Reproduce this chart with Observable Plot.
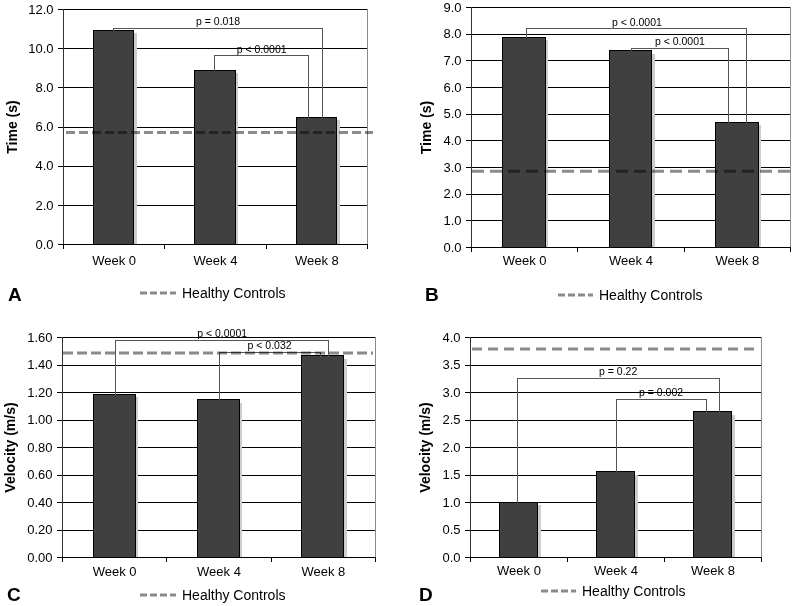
<!DOCTYPE html>
<html>
<head>
<meta charset="utf-8">
<script src="https://cdn.jsdelivr.net/npm/d3@7"></script>
<script src="https://cdn.jsdelivr.net/npm/@observablehq/plot@0.6"></script>
<style>
  html, body { margin: 0; padding: 0; background: #fff; }
  #wrap { position: relative; width: 793px; height: 606px; overflow: hidden; font-family: 'Liberation Sans', Arial, sans-serif; color: #000; }
  .panel { position: absolute; }
  .letter { position: absolute; font-weight: bold; font-size: 19px; line-height: 20px; }
  .legend { position: absolute; display: flex; align-items: center; font-size: 14px; line-height: 18px; height: 18px; }
  .legend svg { display: block; margin-right: 6px; }
</style>
</head>
<body>
<div id="wrap"></div>
<script>
// ---------- data ----------
const categories = ["Week 0", "Week 4", "Week 8"];

const timeA = [10.91, 8.87, 6.47];
const timeB = [7.86, 7.36, 4.68];
const velocityC = [1.183, 1.144, 1.464];
const velocityD = [1.0, 1.55, 2.64];

const healthyA = 5.72;
const healthyB = 2.86;
const healthyC = 1.488;
const healthyD = 3.79;

const yTicksA = [0, 2, 4, 6, 8, 10, 12];
const yTicksB = [0, 1, 2, 3, 4, 5, 6, 7, 8, 9];
const yTicksC = [0, 0.2, 0.4, 0.6, 0.8, 1.0, 1.2, 1.4, 1.6];
const yTicksD = [0, 0.5, 1.0, 1.5, 2.0, 2.5, 3.0, 3.5, 4.0];

// brackets: from/to = position along the category axis (category index units), top = bracket height
const bracketsA = [
  {label: "p = 0.018", from: 0.49, to: 2.56, top: 11.05},
  {label: "p < 0.0001", from: 1.49, to: 2.42, top: 9.65}
];
const bracketsB = [
  {label: "p < 0.0001", from: 0.52, to: 2.59, top: 8.2},
  {label: "p < 0.0001", from: 1.50, to: 2.42, top: 7.48}
];
const bracketsC = [
  {label: "p < 0.0001", from: 0.51, to: 2.55, top: 1.58},
  {label: "p < 0.032", from: 1.50, to: 2.47, top: 1.493}
];
const bracketsD = [
  {label: "p = 0.22", from: 0.48, to: 2.565, top: 3.26},
  {label: "p = 0.002", from: 1.50, to: 2.43, top: 2.88}
];

const legendLabel = "Healthy Controls";

// ---------- drawing ----------
function panel(cfg) {
  const data = categories.map((c, i) => ({c, i, v: cfg.values[i]}));
  const brk = cfg.brackets.map(b => ({...b, fromY: cfg.values[Math.floor(b.from)], toY: cfg.values[Math.floor(b.to)]}));
  const pts = brk.flatMap((b, k) => [
    {k, x: b.from, y: b.fromY}, {k, x: b.from, y: b.top},
    {k, x: b.to, y: b.top}, {k, x: b.to, y: b.toY}
  ]);
  const boundaries = d3.range(categories.length + 1);
  const centers = categories.map((_, i) => i + 0.5);
  const bw = 0.4;
  const crisp = "crispEdges";
  return Plot.plot({
    width: cfg.width, height: cfg.height,
    marginLeft: cfg.ml, marginRight: cfg.mr, marginTop: cfg.mt, marginBottom: cfg.mb,
    x: {type: "linear", domain: [0, categories.length], label: null},
    y: {domain: [0, d3.max(cfg.ticks)], label: null},
    style: {fontFamily: "'Liberation Sans', Arial, sans-serif", fontSize: "13px", color: "black", background: "white", overflow: "visible"},
    marks: [
      Plot.frame({stroke: "#8c8c8c", shapeRendering: crisp}),
      Plot.gridY(cfg.ticks, {stroke: "black", strokeOpacity: 1, shapeRendering: crisp}),
      Plot.rect(data, {x1: d => d.i + 0.5 - bw / 2, x2: d => d.i + 0.5 + bw / 2, y1: 0, y2: "v", dx: 3, insetTop: 3, fill: "#cdcdcd", shapeRendering: crisp}),
      Plot.rect(data, {x1: d => d.i + 0.5 - bw / 2, x2: d => d.i + 0.5 + bw / 2, y1: 0, y2: "v", fill: "#404040", stroke: "black", strokeWidth: 1, shapeRendering: crisp}),
      Plot.line(pts, {x: "x", y: "y", z: "k", stroke: "#555", strokeWidth: 1, shapeRendering: crisp}),
      Plot.text(brk, {x: d => (d.from + d.to) / 2, y: "top", text: "label", dy: -3, lineAnchor: "bottom", fontSize: 10.5}),
      Plot.ruleY([cfg.healthy], {stroke: "#8a8a8a", strokeWidth: 3, strokeDasharray: cfg.dash, mixBlendMode: "multiply", insetLeft: cfg.insetL, insetRight: cfg.insetR}),
      Plot.ruleX([0], {stroke: "#333", shapeRendering: crisp}),
      Plot.ruleY([0], {stroke: "black", shapeRendering: crisp}),
      Plot.axisY(cfg.ticks, {tickSize: 5, tickPadding: 5, tickFormat: d3.format(cfg.fmt), fontSize: 13, label: null, shapeRendering: crisp}),
      Plot.axisX(boundaries, {tickSize: 5, tickFormat: () => "", label: null, shapeRendering: crisp}),
      Plot.axisX(centers, {tickSize: 0, tickPadding: cfg.labelPad, tickFormat: v => categories[Math.floor(v)], fontSize: 13, label: null}),
      Plot.text([cfg.title], {frameAnchor: "left", dx: cfg.titleDx, rotate: -90, textAnchor: "middle", lineAnchor: "middle", fontWeight: "bold", fontSize: 14})
    ]
  });
}

const panels = [
  {id: "A", left: 0, top: 0, width: 393, height: 275, ml: 63, mr: 26, mt: 9, mb: 31,
   values: timeA, ticks: yTicksA, fmt: ".1f", healthy: healthyA, brackets: bracketsA, title: "Time (s)",
   dash: "9,4", insetL: 3, insetR: -6, labelPad: 11, titleDx: -51,
   letter: [8, 285], legend: [140, 284, 36]},
  {id: "B", left: 393, top: 0, width: 400, height: 275, ml: 78, mr: 3, mt: 7, mb: 28,
   values: timeB, ticks: yTicksB, fmt: ".1f", healthy: healthyB, brackets: bracketsB, title: "Time (s)",
   dash: "12,6", insetL: 1, insetR: -3, labelPad: 8, titleDx: -45,
   letter: [425, 285], legend: [558, 286, 35]},
  {id: "C", left: 0, top: 320, width: 393, height: 265, ml: 62, mr: 18, mt: 17, mb: 28,
   values: velocityC, ticks: yTicksC, fmt: ".2f", healthy: healthyC, brackets: bracketsC, title: "Velocity (m/s)",
   dash: "10,4", insetL: 1, insetR: 2, labelPad: 9, titleDx: -52,
   letter: [7, 585], legend: [140, 586, 36]},
  {id: "D", left: 393, top: 320, width: 400, height: 265, ml: 77, mr: 32, mt: 17, mb: 28,
   values: velocityD, ticks: yTicksD, fmt: ".1f", healthy: healthyD, brackets: bracketsD, title: "Velocity (m/s)",
   dash: "10,6", insetL: 2, insetR: 1, labelPad: 8, titleDx: -45,
   letter: [419, 585], legend: [541, 582, 35]}
];

const wrap = document.getElementById("wrap");
for (const p of panels) {
  const div = document.createElement("div");
  div.className = "panel";
  div.style.left = p.left + "px";
  div.style.top = p.top + "px";
  div.appendChild(panel(p));
  wrap.appendChild(div);

  const letter = document.createElement("div");
  letter.className = "letter";
  letter.style.left = p.letter[0] + "px";
  letter.style.top = p.letter[1] + "px";
  letter.textContent = p.id;
  wrap.appendChild(letter);

  const leg = document.createElement("div");
  leg.className = "legend";
  leg.style.left = p.legend[0] + "px";
  leg.style.top = p.legend[1] + "px";
  const w = p.legend[2];
  leg.innerHTML = `<svg width="${w}" height="6"><line x1="0" x2="${w}" y1="3" y2="3" stroke="#8a8a8a" stroke-width="3" stroke-dasharray="7,3"></line></svg>`;
  const span = document.createElement("span");
  span.textContent = legendLabel;
  leg.appendChild(span);
  wrap.appendChild(leg);
}
</script>
</body>
</html>
